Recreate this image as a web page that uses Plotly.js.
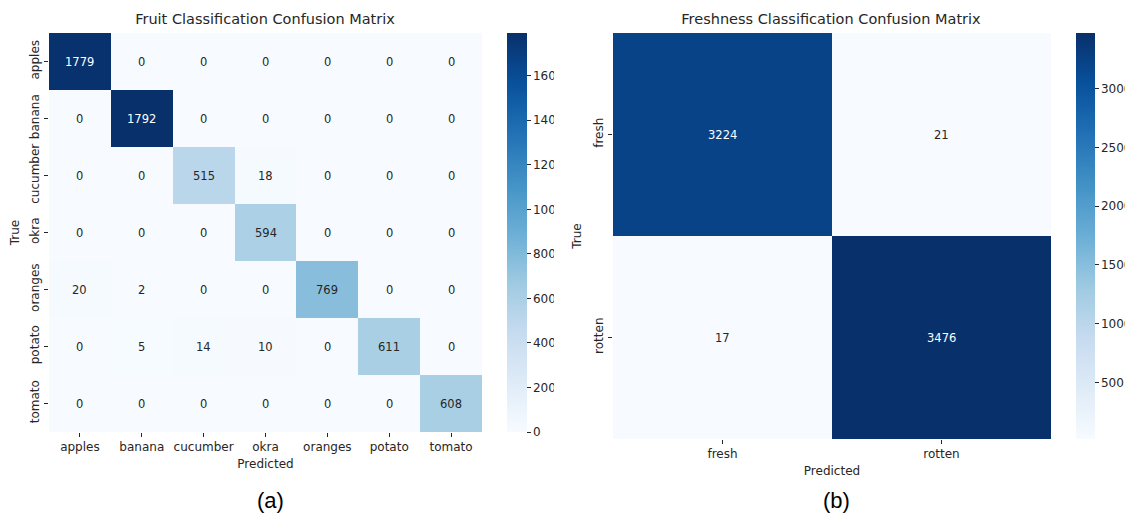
<!DOCTYPE html>
<html>
<head>
<meta charset="utf-8">
<script src="https://cdn.plot.ly/plotly-3.0.1.min.js"></script>
<style>
  html, body { margin: 0; padding: 0; background: #fff; width: 1125px; height: 513px; overflow: hidden; }
  .panel { position: absolute; top: 0; height: 513px; overflow: hidden; }
  #fruitPanel { left: 0; width: 554px; }
  #freshPanel { left: 554px; width: 571px; }
</style>
</head>
<body>
<div class="panel" id="fruitPanel"><div id="fruit"></div></div>
<div class="panel" id="freshPanel"><div id="fresh"></div></div>
<script>
// Fruit type confusion matrix (rows = true label, columns = predicted label)
const fruitLabels = ["apples", "banana", "cucumber", "okra", "oranges", "potato", "tomato"];
const fruitCounts = [
  [1779, 0, 0, 0, 0, 0, 0],
  [0, 1792, 0, 0, 0, 0, 0],
  [0, 0, 515, 18, 0, 0, 0],
  [0, 0, 0, 594, 0, 0, 0],
  [20, 2, 0, 0, 769, 0, 0],
  [0, 5, 14, 10, 0, 611, 0],
  [0, 0, 0, 0, 0, 0, 608]
];
const fruitTicks = [0, 200, 400, 600, 800, 1000, 1200, 1400, 1600];

// Freshness confusion matrix
const freshLabels = ["fresh", "rotten"];
const freshCounts = [
  [3224, 21],
  [17, 3476]
];
const freshTicks = [500, 1000, 1500, 2000, 2500, 3000];

// Matplotlib "Blues" ramp
const blues = ["#f7fbff", "#deebf7", "#c6dbef", "#9ecae1", "#6baed6", "#4292c6", "#2171b5", "#08519c", "#08306b"];
const bluesScale = blues.map((c, i) => [i / (blues.length - 1), c]);

const FONT = "DejaVu Sans, sans-serif";
const INK = "#262626";

function hexToRgb(h) {
  return [1, 3, 5].map(i => parseInt(h.substr(i, 2), 16));
}
function colorAt(t) {
  t = Math.max(0, Math.min(1, t));
  const n = blues.length - 1;
  const i = Math.min(n - 1, Math.floor(t * n));
  const f = t * n - i;
  const a = hexToRgb(blues[i]), b = hexToRgb(blues[i + 1]);
  return a.map((v, k) => v + (b[k] - v) * f);
}
function luminance(rgb) {
  const lin = rgb.map(v => {
    v = v / 255;
    return v <= 0.03928 ? v / 12.92 : Math.pow((v + 0.055) / 1.055, 2.4);
  });
  return 0.2126 * lin[0] + 0.7152 * lin[1] + 0.0722 * lin[2];
}

// Count labels in each cell, dark or white depending on the cell shade
function cellLabels(labels, counts, zmin, zmax) {
  const out = [];
  counts.forEach((row, r) => {
    row.forEach((v, c) => {
      const lum = luminance(colorAt((v - zmin) / (zmax - zmin)));
      out.push({
        x: labels[c], y: labels[r], xref: "x", yref: "y",
        text: String(v), showarrow: false,
        font: { family: FONT, size: 11.5, color: lum > 0.408 ? INK : "#ffffff" }
      });
    });
  });
  return out;
}

function matrixFigure(opts) {
  const flat = opts.counts.flat();
  const zmin = Math.min(...flat), zmax = Math.max(...flat);
  const plotW = opts.width - opts.ml - opts.mr;
  const trace = {
    type: "heatmap",
    x: opts.labels, y: opts.labels, z: opts.counts,
    zmin: zmin, zmax: zmax,
    colorscale: bluesScale,
    hoverinfo: "skip",
    colorbar: {
      x: opts.cbLeft / plotW, xanchor: "left", xpad: 0,
      y: 0.5, yanchor: "middle", ypad: 0,
      thickness: opts.cbThick,
      len: opts.plotH, lenmode: "pixels",
      outlinewidth: 0,
      ticks: "outside", ticklen: 4, tickwidth: 1, tickcolor: INK,
      tickvals: opts.cbTicks,
      tickfont: { family: FONT, size: 12, color: INK }
    }
  };
  const axisCommon = {
    type: "category",
    showgrid: false, zeroline: false, showline: false,
    ticks: "outside", ticklen: 4, tickwidth: 1, tickcolor: INK,
    tickfont: { family: FONT, size: 12, color: INK }
  };
  const layout = {
    width: opts.width, height: 513,
    margin: { l: opts.ml, r: opts.mr, t: 33, b: opts.mb, pad: 0 },
    paper_bgcolor: "#ffffff", plot_bgcolor: "#ffffff",
    showlegend: false,
    title: {
      text: opts.title, x: opts.titleX / opts.width, xanchor: "center",
      y: 1 - 19 / 513, yanchor: "middle", yref: "container",
      font: { family: FONT, size: 14.5, color: INK }
    },
    xaxis: Object.assign({}, axisCommon, {
      tickangle: 0,
      title: { text: "Predicted", standoff: opts.xStandoff, font: { family: FONT, size: 12, color: INK } }
    }),
    yaxis: Object.assign({}, axisCommon, {
      autorange: "reversed", tickangle: -90,
      title: { text: "True", standoff: opts.yStandoff, font: { family: FONT, size: 12, color: INK } }
    }),
    annotations: cellLabels(opts.labels, opts.counts, zmin, zmax).concat([{
      text: opts.caption, xref: "paper", yref: "paper",
      x: (opts.captionX - opts.ml) / plotW, y: -(500 - (513 - opts.mb)) / opts.plotH,
      xanchor: "center", yanchor: "middle",
      showarrow: false, font: { family: "Liberation Sans, Arial, sans-serif", size: 22, color: "#000" }
    }])
  };
  return { data: [trace], layout: layout };
}

// Left panel: plot area 49..482 x 33..432; canvas wider than its clipping panel
const fruitFig = matrixFigure({
  labels: fruitLabels, counts: fruitCounts, cbTicks: fruitTicks,
  width: 640, ml: 49, mr: 640 - 482, mb: 81, plotH: 399,
  cbLeft: 507 - 49, cbThick: 20,
  title: "Fruit Classification Confusion Matrix", titleX: 265,
  xStandoff: 6, yStandoff: 6,
  caption: "(a)", captionX: 270
});
// Right panel: plot area 613..1051 x 33..439 (panel offset 554)
const freshFig = matrixFigure({
  labels: freshLabels, counts: freshCounts, cbTicks: freshTicks,
  width: 660, ml: 59, mr: 660 - 497, mb: 74, plotH: 406,
  cbLeft: 522 - 59, cbThick: 19,
  title: "Freshness Classification Confusion Matrix", titleX: 831 - 554,
  xStandoff: 6, yStandoff: 8,
  caption: "(b)", captionX: 836 - 554
});

const cfg = { displayModeBar: false, staticPlot: true };
Plotly.newPlot("fruit", fruitFig.data, fruitFig.layout, cfg);
Plotly.newPlot("fresh", freshFig.data, freshFig.layout, cfg);
</script>
</body>
</html>
